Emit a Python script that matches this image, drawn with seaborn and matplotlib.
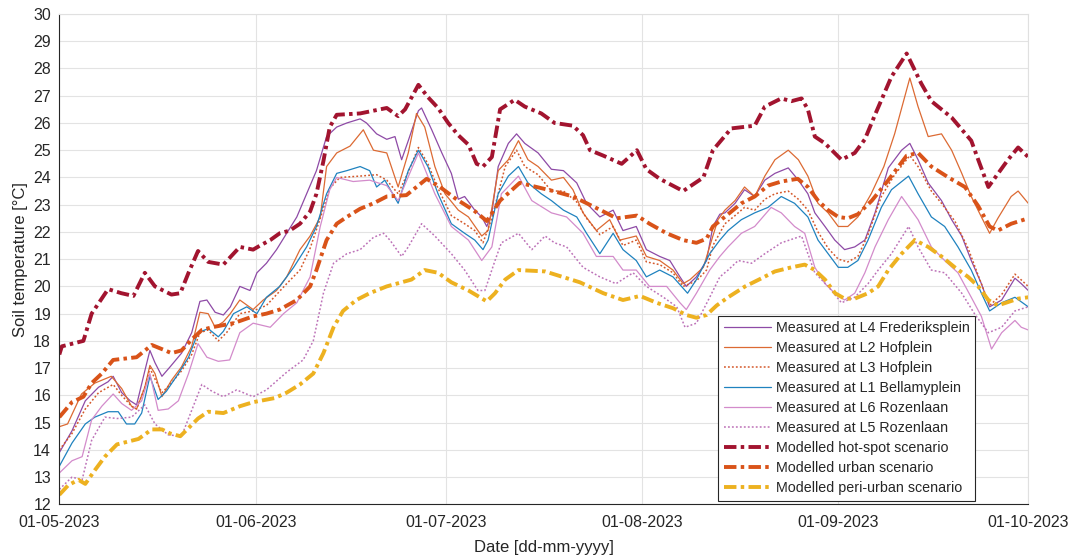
import numpy as np
import pandas as pd
import matplotlib
matplotlib.use("Agg")
import matplotlib.pyplot as plt
import matplotlib.dates as mdates
import seaborn as sns

# ---- series data: (day offset from 01-05-2023, soil temperature in degC) ----
l4_days = [0, 2.0, 4.1, 6.2, 7.7, 8.5, 9.85, 11.2, 12.2, 13.5, 14.3, 15.1, 16.2, 17.5, 19.3, 20.9,
           22.2, 23.3, 24.6, 25.9, 27.0, 28.5, 30.1, 31.2, 32.7, 34.3, 35.9, 37.5, 39.05, 40.6, 42.2,
           43.8, 45.4, 47.5, 48.5, 50.1, 51.7, 53.0, 54.05, 55.1, 56.7, 57.2, 58.8, 60.4, 61.9, 63.0,
           64.0, 65.6, 66.7, 67.5, 68.3, 69.3, 70.9, 72.2, 73.5, 75.6, 77.7, 79.6, 81.7, 83.25, 85.35,
           87.45, 89.0, 91.1, 92.7, 94.8, 96.4, 98.0, 99.0, 100.6, 102.2, 103.2, 104.3, 105.1, 106.7,
           108.2, 109.8, 111.4, 113.0, 115.1, 116.7, 118.2, 119.3, 120.9, 122.45, 124.0, 125.6, 127.2,
           128.8, 130.9, 133.0, 134.3, 135.6, 137.2, 139.3, 140.9, 142.5, 144.0, 145.6, 146.9, 148.8,
           150.9, 151.9, 153]
l4_temp = [13.9, 14.7, 15.8, 16.3, 16.5, 16.7, 16.1, 15.8, 15.65, 16.9, 17.65, 17.2, 16.7, 17.05, 17.55,
           18.3, 19.45, 19.5, 19.05, 18.95, 19.25, 20.0, 19.85, 20.5, 20.85, 21.35, 21.95, 22.55, 23.4,
           24.25, 25.5, 25.85, 26.0, 26.15, 26.0, 25.6, 25.4, 25.5, 24.65, 25.35, 26.45, 26.55, 25.75,
           24.9, 24.15, 23.2, 23.3, 22.8, 22.55, 22.2, 22.7, 24.4, 25.25, 25.6, 25.25, 24.9, 24.3, 24.25,
           23.8, 23.05, 22.55, 22.8, 22.05, 22.2, 21.35, 21.1, 20.95, 20.35, 20.0, 20.35, 20.95, 22.2,
           22.65, 22.7, 23.05, 23.55, 23.3, 23.9, 24.15, 24.35, 23.9, 23.4, 22.7, 22.2, 21.7, 21.35,
           21.45, 21.7, 22.7, 24.35, 25.0, 25.25, 24.65, 23.8, 23.15, 22.45, 21.85, 20.95, 20.1, 19.25,
           19.5, 20.3, 20.1, 19.85]

l2_days = [0, 1.3, 3.5, 5.6, 8.2, 9.85, 11.4, 12.2, 13.5, 14.3, 15.1, 16.2, 17.7, 19.3, 20.9, 22.2,
           23.5, 24.6, 25.9, 27.0, 28.5, 30.6, 32.2, 34.3, 35.9, 38.0, 39.6, 41.2, 42.2, 43.8, 45.9,
           48.0, 49.6, 51.7, 53.5, 55.1, 56.4, 57.7, 59.3, 60.9, 63.0, 64.6, 66.7, 67.7, 69.3, 70.9,
           72.5, 74.0, 75.6, 77.7, 79.6, 81.1, 82.7, 84.8, 86.9, 88.5, 91.1, 92.7, 94.8, 96.9, 98.5,
           99.6, 101.7, 103.2, 104.0, 105.1, 106.7, 108.2, 109.8, 111.4, 113.0, 115.1, 116.7, 118.2,
           119.8, 121.4, 123.0, 124.5, 126.1, 128.2, 130.2, 131.9, 134.3, 135.6, 137.2, 139.3, 140.9,
           142.5, 144.0, 145.6, 146.9, 148.2, 150.3, 151.4, 153]
l2_temp = [14.85, 14.95, 16.05, 16.45, 16.7, 16.25, 15.6, 15.5, 16.3, 17.1, 16.8, 15.95, 16.55, 17.05,
           17.8, 19.05, 19.0, 18.5, 18.7, 19.0, 19.5, 19.15, 19.5, 19.85, 20.35, 21.35, 21.85, 22.55,
           24.4, 24.9, 25.15, 25.75, 25.0, 24.9, 23.65, 24.9, 26.35, 25.85, 24.4, 23.4, 22.8, 22.55,
           21.85, 22.05, 24.25, 24.65, 25.35, 24.65, 24.4, 23.9, 24.0, 23.55, 22.7, 22.05, 22.45, 21.7,
           21.85, 21.1, 20.95, 20.6, 20.1, 20.25, 20.7, 21.85, 22.45, 22.8, 23.15, 23.65, 23.3, 24.05,
           24.65, 25.0, 24.65, 24.05, 23.05, 22.7, 22.2, 22.2, 22.55, 23.4, 24.4, 25.6, 27.65, 26.6,
           25.5, 25.6, 25.0, 24.15, 23.3, 22.55, 21.95, 22.5, 23.3, 23.5, 23.05]

l3_days = [0, 2.0, 4.1, 6.2, 8.5, 9.85, 11.4, 12.2, 13.5, 14.3, 15.1, 16.2, 17.5, 19.3, 20.9, 22.2,
           23.5, 25.1, 26.4, 28.5, 30.6, 32.7, 35.9, 38.0, 39.6, 41.2, 42.7, 44.3, 47.5, 50.1, 51.7,
           53.5, 55.1, 56.7, 58.2, 59.8, 61.9, 64.0, 65.6, 66.9, 68.3, 70.4, 72.2, 73.5, 75.6, 77.7,
           79.6, 81.7, 83.25, 85.35, 87.45, 89.0, 91.1, 92.7, 94.8, 96.9, 98.5, 100.6, 102.2, 103.2,
           105.1, 106.7, 108.2, 109.8, 111.4, 113.0, 115.1, 116.7, 118.2, 119.8, 121.4, 123.0, 124.5,
           126.1, 127.7, 129.8, 131.9, 134.3, 135.6, 137.7, 139.3, 141.4, 143.5, 145.1, 146.9, 148.8,
           150.9, 153]
l3_temp = [14.0, 14.6, 15.5, 16.1, 16.4, 16.0, 15.6, 15.5, 16.3, 17.0, 16.6, 16.1, 16.4, 16.9, 17.5,
           18.3, 18.4, 18.0, 18.3, 19.0, 19.1, 19.3, 20.1, 20.6, 21.4, 22.5, 23.6, 24.0, 24.05, 24.1,
           23.9, 23.4, 24.2, 25.1, 24.5, 23.6, 22.6, 22.3, 22.05, 21.6, 22.5, 24.4, 25.0, 24.4, 24.1,
           23.5, 23.5, 23.1, 22.5, 21.9, 22.2, 21.5, 21.7, 20.9, 20.8, 20.5, 20.0, 20.2, 20.6, 21.5,
           22.3, 22.6, 22.9, 22.8, 23.2, 23.4, 23.5, 23.2, 22.8, 22.0, 21.4, 21.0, 20.9, 21.1, 21.9,
           23.3, 24.1, 24.8, 24.4, 23.5, 23.05, 22.4, 21.4, 20.4, 19.3, 19.7, 20.45, 20.0]

l1_days = [0, 2.0, 4.1, 5.6, 7.7, 9.3, 10.6, 11.9, 13.0, 14.3, 15.6, 16.9, 18.8, 20.4, 21.9, 23.5,
           25.1, 25.9, 27.5, 29.6, 31.2, 32.7, 34.8, 37.0, 39.05, 40.6, 42.2, 43.8, 45.4, 47.5, 49.0,
           50.1, 51.4, 53.5, 55.1, 56.7, 58.2, 59.8, 61.9, 64.0, 65.6, 66.9, 67.7, 69.3, 70.9, 72.5,
           74.0, 76.1, 77.7, 79.6, 81.7, 83.25, 85.35, 87.45, 89.0, 91.1, 92.7, 94.8, 96.9, 99.2,
           100.6, 102.7, 104.3, 105.6, 107.7, 109.8, 111.9, 114.0, 116.1, 118.2, 119.8, 121.4, 123.0,
           124.5, 126.1, 127.7, 129.8, 131.4, 134.1, 135.6, 137.7, 139.8, 141.9, 144.0, 145.6, 146.9,
           148.8, 150.9, 153]
l1_temp = [13.4, 14.25, 14.95, 15.2, 15.4, 15.4, 14.95, 14.95, 15.35, 16.7, 15.85, 16.15, 16.8, 17.4,
           18.3, 18.45, 18.15, 18.35, 19.0, 19.25, 19.0, 19.6, 20.0, 20.7, 21.45, 22.2, 23.4, 24.15,
           24.25, 24.4, 24.25, 23.65, 23.9, 23.05, 24.25, 25.0, 24.4, 23.4, 22.3, 21.95, 21.7, 21.35,
           21.7, 23.4, 24.05, 24.4, 23.8, 23.4, 23.15, 22.8, 22.55, 21.95, 21.2, 21.95, 21.35, 20.95,
           20.35, 20.6, 20.35, 19.75, 20.25, 21.2, 21.7, 22.05, 22.45, 22.7, 22.9, 23.3, 23.05, 22.55,
           21.7, 21.2, 20.7, 20.7, 20.95, 21.7, 22.9, 23.55, 24.05, 23.4, 22.55, 22.2, 21.45, 20.6,
           19.75, 19.1, 19.4, 19.6, 19.25]

l6_days = [0, 2.0, 3.6, 5.1, 6.7, 8.5, 9.85, 11.4, 13.0, 14.3, 15.6, 17.2, 18.8, 20.4, 21.9, 23.3,
           25.1, 26.9, 28.5, 30.6, 33.3, 35.4, 37.5, 39.6, 41.2, 42.7, 43.8, 46.4, 49.0, 51.7, 53.5,
           56.7, 59.3, 61.9, 64.6, 66.7, 68.3, 69.8, 72.5, 74.6, 77.7, 80.1, 82.7, 84.8, 87.45, 89.0,
           91.1, 93.2, 95.9, 98.0, 99.0, 100.6, 102.7, 104.3, 105.6, 107.7, 109.8, 112.4, 114.0,
           116.1, 117.7, 119.3, 120.9, 122.45, 124.0, 125.6, 127.2, 128.8, 130.9, 133.0, 135.6,
           137.7, 139.8, 141.9, 144.0, 145.6, 147.2, 148.8, 150.9, 151.9, 153]
l6_temp = [13.15, 13.6, 13.75, 15.1, 15.6, 16.05, 15.7, 15.45, 15.8, 16.8, 15.45, 15.5, 15.8, 16.8,
           17.9, 17.4, 17.25, 17.3, 18.3, 18.65, 18.5, 19.0, 19.4, 20.35, 22.2, 23.55, 24.0, 23.85,
           23.9, 23.7, 23.15, 24.9, 23.4, 22.2, 21.7, 20.95, 21.45, 23.4, 24.05, 23.15, 22.7, 22.55,
           21.95, 21.1, 21.1, 20.6, 20.6, 20.0, 20.0, 19.4, 19.15, 19.75, 20.6, 21.1, 21.45, 21.95,
           22.2, 22.9, 22.7, 22.2, 21.95, 20.7, 20.1, 19.75, 19.5, 19.75, 20.5, 21.45, 22.45, 23.3,
           22.45, 21.45, 20.95, 20.5, 19.6, 18.9, 17.7, 18.3, 18.75, 18.5, 18.4]

l5_days = [0, 2.0, 3.6, 5.1, 7.2, 9.1, 11.4, 13.5, 15.1, 17.2, 19.3, 20.9, 22.5, 24.1, 25.9, 28.0,
           30.6, 32.7, 35.9, 38.5, 40.1, 41.7, 43.3, 45.4, 47.5, 49.6, 51.2, 52.2, 54.05, 55.1, 57.2,
           59.3, 61.9, 64.0, 66.1, 67.2, 68.8, 69.8, 72.5, 74.6, 76.7, 78.2, 80.1, 82.7, 85.35, 87.9,
           90.6, 92.7, 95.4, 97.5, 98.8, 100.6, 102.7, 104.3, 105.6, 107.2, 109.3, 111.4, 114.0,
           117.2, 118.2, 119.3, 121.4, 123.5, 125.6, 127.7, 129.3, 131.4, 134.1, 135.6, 137.7, 139.8,
           142.5, 144.5, 146.7, 148.8, 150.9, 153]
l5_temp = [12.55, 13.0, 12.9, 14.35, 15.2, 15.15, 15.2, 15.65, 14.95, 14.55, 14.5, 15.45, 16.4, 16.15,
           15.95, 16.2, 15.95, 16.2, 16.85, 17.3, 18.0, 19.75, 20.85, 21.2, 21.35, 21.8, 21.95, 21.7,
           21.1, 21.45, 22.3, 21.85, 21.2, 20.6, 19.85, 19.85, 20.95, 21.6, 21.95, 21.35, 21.85, 21.6,
           21.45, 20.7, 20.35, 20.1, 20.5, 20.0, 19.6, 19.25, 18.5, 18.65, 19.6, 20.35, 20.6, 20.95,
           20.85, 21.2, 21.6, 21.85, 21.2, 20.5, 20.0, 19.4, 19.6, 20.1, 20.6, 21.2, 22.2, 21.45,
           20.6, 20.5, 19.75, 19.0, 18.3, 18.5, 19.1, 19.25]

hot_days = [0, 0.4, 3.8, 5.1, 7.7, 9.8, 11.7, 13.5, 15.1, 17.7, 19.1, 20.4, 21.9, 23.5, 25.9, 28.5,
            30.6, 31.7, 33.3, 34.8, 36.4, 38.0, 39.6, 40.6, 41.7, 42.7, 43.8, 47.5, 51.7, 53.5, 54.6,
            56.7, 58.2, 59.8, 61.4, 63.0, 64.6, 65.9, 66.9, 68.3, 69.6, 71.9, 73.5, 76.1, 78.2, 81.1,
            82.7, 83.8, 85.9, 88.8, 91.2, 92.7, 94.8, 98.5, 101.7, 103.2, 106.1, 109.8, 111.4, 114.0,
            115.6, 117.2, 118.2, 119.3, 120.9, 123.5, 125.6, 127.2, 128.8, 131.4, 133.8, 136.1, 137.7,
            140.9, 144.0, 145.1, 146.7, 149.8, 151.4, 153]
hot_temp = [17.5, 17.8, 18.0, 19.0, 19.9, 19.75, 19.65, 20.5, 20.0, 19.7, 19.75, 20.5, 21.3, 20.9,
            20.8, 21.45, 21.35, 21.5, 21.7, 21.95, 22.05, 22.3, 22.75, 23.4, 24.6, 25.85, 26.3, 26.35,
            26.55, 26.25, 26.5, 27.4, 26.95, 26.55, 26.0, 25.55, 25.2, 24.5, 24.4, 24.75, 26.5, 26.85,
            26.6, 26.35, 26.0, 25.9, 25.55, 25.0, 24.8, 24.5, 25.0, 24.3, 23.95, 23.5, 24.0, 25.0,
            25.8, 25.9, 26.6, 26.9, 26.8, 26.9, 26.5, 25.5, 25.25, 24.65, 24.9, 25.4, 26.3, 27.7,
            28.55, 27.45, 26.8, 26.2, 25.35, 24.65, 23.65, 24.65, 25.1, 24.75]

urban_days = [0, 2.0, 3.8, 5.1, 6.7, 8.5, 12.2, 14.6, 16.7, 17.7, 19.3, 20.9, 22.5, 24.1, 27.5, 30.6,
              32.7, 34.8, 37.5, 39.6, 40.6, 42.2, 43.8, 45.4, 47.5, 49.6, 51.7, 54.8, 58.0, 60.1,
              62.7, 65.4, 67.5, 69.6, 72.7, 78.0, 81.1, 83.3, 85.9, 88.0, 91.2, 93.2, 95.9, 98.5,
              100.6, 102.2, 103.2, 105.6, 107.7, 109.8, 111.9, 114.0, 116.6, 118.2, 119.8, 121.4,
              123.0, 124.5, 126.1, 128.3, 130.9, 133.8, 135.6, 137.7, 140.4, 143.0, 145.1, 146.9,
              148.2, 150.3, 153]
urban_temp = [15.2, 15.75, 15.95, 16.45, 16.8, 17.3, 17.4, 17.85, 17.65, 17.55, 17.65, 18.05, 18.4,
              18.5, 18.65, 18.9, 19.0, 19.15, 19.5, 20.0, 20.6, 21.7, 22.3, 22.55, 22.85, 23.05, 23.3,
              23.35, 23.95, 23.65, 23.2, 22.8, 22.4, 23.15, 23.8, 23.5, 23.3, 23.05, 22.75, 22.5, 22.6,
              22.3, 21.95, 21.7, 21.6, 21.75, 22.2, 22.65, 23.05, 23.3, 23.7, 23.85, 23.95, 23.65,
              23.15, 22.8, 22.55, 22.5, 22.65, 23.15, 23.9, 24.8, 24.9, 24.4, 24.0, 23.65, 22.95,
              22.2, 22.05, 22.3, 22.5]

peri_days = [0, 1.4, 3.0, 4.1, 5.6, 7.2, 9.1, 12.5, 14.6, 16.2, 17.5, 19.1, 20.4, 21.9, 23.5, 25.9,
             28.5, 30.6, 34.0, 35.9, 38.0, 40.1, 41.7, 43.3, 44.8, 46.9, 49.0, 51.7, 55.6, 57.7, 59.8,
             61.9, 64.6, 67.5, 68.8, 70.4, 72.5, 76.7, 82.2, 85.9, 89.0, 91.7, 94.3, 96.9, 99.0,
             100.6, 102.2, 103.8, 105.6, 108.3, 110.9, 113.0, 115.6, 117.7, 119.3, 120.9, 122.5,
             124.0, 125.6, 127.7, 129.3, 130.9, 133.0, 135.1, 137.2, 139.3, 141.4, 143.5, 145.1,
             146.7, 148.2, 151.4, 153]
peri_temp = [12.35, 12.7, 12.9, 12.75, 13.25, 13.75, 14.2, 14.4, 14.75, 14.75, 14.6, 14.5, 14.8, 15.15,
             15.4, 15.35, 15.6, 15.75, 15.9, 16.1, 16.4, 16.8, 17.55, 18.5, 19.1, 19.5, 19.75, 20.0,
             20.25, 20.6, 20.5, 20.15, 19.85, 19.45, 19.75, 20.25, 20.6, 20.55, 20.15, 19.75, 19.5,
             19.65, 19.4, 19.2, 18.95, 18.85, 18.95, 19.3, 19.6, 20.0, 20.3, 20.55, 20.7, 20.8, 20.6,
             20.25, 19.75, 19.55, 19.55, 19.75, 20.0, 20.6, 21.2, 21.7, 21.45, 21.1, 20.7, 20.35, 20.0,
             19.5, 19.3, 19.55, 19.6]

y_ticks = list(range(12, 31))
month_ticks = ["2023-05-01", "2023-06-01", "2023-07-01", "2023-08-01", "2023-09-01", "2023-10-01"]

START = pd.Timestamp("2023-05-01")


def to_dates(days):
    return START + pd.to_timedelta(np.asarray(days, dtype=float), unit="D")


DASHDOT = (0, (3.2, 1.1, 0.9, 1.1))
DOTTED = (0, (1.2, 1.4))

series = [
    ("Measured at L4 Frederiksplein", l4_days, l4_temp, "#8E4AA6", 0.9, "-"),
    ("Measured at L2 Hofplein", l2_days, l2_temp, "#DC6A33", 0.9, "-"),
    ("Measured at L3 Hofplein", l3_days, l3_temp, "#D4582A", 1.1, DOTTED),
    ("Measured at L1 Bellamyplein", l1_days, l1_temp, "#1F82BF", 0.9, "-"),
    ("Measured at L6 Rozenlaan", l6_days, l6_temp, "#D38BCB", 0.9, "-"),
    ("Measured at L5 Rozenlaan", l5_days, l5_temp, "#BD72B8", 1.1, DOTTED),
    ("Modelled hot-spot scenario", hot_days, hot_temp, "#A2142F", 2.8, DASHDOT),
    ("Modelled urban scenario", urban_days, urban_temp, "#D95319", 2.8, DASHDOT),
    ("Modelled peri-urban scenario", peri_days, peri_temp, "#EDB120", 2.8, DASHDOT),
]

sns.set_theme(style="white")
plt.rcParams["font.family"] = ["Liberation Sans", "DejaVu Sans"]

fig = plt.figure(figsize=(10.73, 5.58), dpi=100)
ax = fig.add_axes([0.0553, 0.0962, 0.9030, 0.8787])

for label, d, t, color, lw, ls in series:
    sns.lineplot(x=to_dates(d), y=t, ax=ax, color=color, linewidth=lw,
                 linestyle=ls, label=label, estimator=None, sort=False)

ax.set_xlim(START, pd.Timestamp("2023-10-01"))
ax.set_ylim(12, 30)
ax.set_yticks(y_ticks)
ax.set_xticks(pd.to_datetime(month_ticks))
ax.xaxis.set_major_formatter(mdates.DateFormatter("%d-%m-%Y"))

ax.grid(True, color="#E3E3E3", linewidth=0.8)
ax.set_axisbelow(True)
for side in ["left", "bottom"]:
    ax.spines[side].set_color("#262626")
    ax.spines[side].set_linewidth(0.8)
for side in ["top", "right"]:
    ax.spines[side].set_color("#E0E0E0")
    ax.spines[side].set_linewidth(0.8)

ax.tick_params(axis="both", direction="in", length=5, width=0.8, color="#262626",
               labelsize=11.5, labelcolor="#262626", pad=6)
ax.tick_params(axis="x", pad=8)

ax.set_xlabel("Date [dd-mm-yyyy]", fontsize=12, color="#262626", labelpad=7)
ax.set_ylabel("Soil temperature [°C]", fontsize=12, color="#262626", labelpad=4)

leg = ax.legend(loc="lower right", bbox_to_anchor=(0.9455, 0.007), fontsize=10.3,
                frameon=True, fancybox=False, framealpha=1, edgecolor="#262626",
                handlelength=3.3, handletextpad=0.35, borderpad=0.38, labelspacing=0.42,
                borderaxespad=0.0)
leg.get_frame().set_linewidth(0.8)
for txt in leg.get_texts():
    txt.set_color("#262626")

fig.savefig("out.png", dpi=100)
